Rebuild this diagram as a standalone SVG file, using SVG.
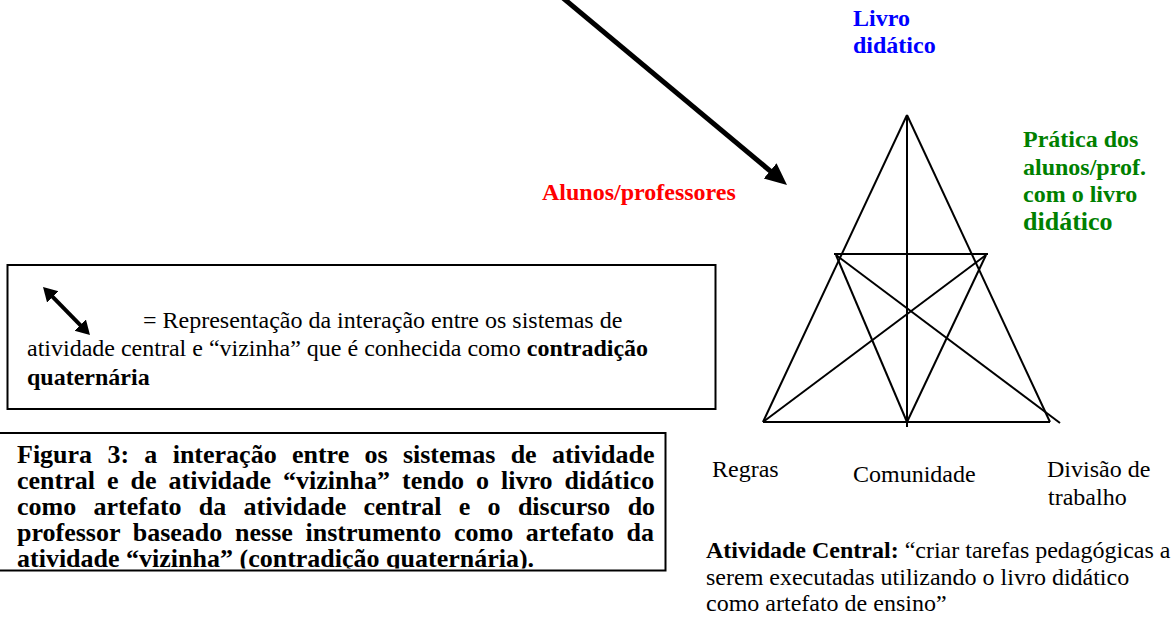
<svg xmlns="http://www.w3.org/2000/svg" width="1171" height="622" viewBox="0 0 1171 622" font-family="'Liberation Serif', Tinos, 'Times New Roman', 'Nimbus Roman', 'DejaVu Serif', serif">
  <style>
    text { font-family: 'Liberation Serif', Tinos, 'Times New Roman', 'Nimbus Roman', 'DejaVu Serif', serif; }
    .reg { font-size: 24px; fill: #000; }
    .bold { font-weight: bold; }
    .cap { font-weight: bold; font-size: 26px; fill: #000; }
    .tri { stroke: #000; stroke-width: 2; fill: none; stroke-linecap: butt; }
    .box { fill: #fff; stroke: #000; stroke-width: 2; }
  </style>
  <defs>
    <marker id="bigHead" markerUnits="userSpaceOnUse" markerWidth="24" markerHeight="22" refX="7" refY="10" orient="auto">
      <path d="M0,0 L22,10 L0,20 z" fill="#000"/>
    </marker>
    <marker id="smallHead" markerUnits="userSpaceOnUse" markerWidth="16" markerHeight="18" refX="4" refY="8" orient="auto-start-reverse">
      <path d="M0,0 L14,8 L0,16 z" fill="#000"/>
    </marker>
    <clipPath id="capClip">
      <rect x="0" y="434" width="664" height="134.5"/>
    </clipPath>
  </defs>
  <rect width="1171" height="622" fill="#fff"/>

  <g id="connectors">
    <line x1="563" y1="-2" x2="775.5" y2="175.4" stroke="#000" stroke-width="5" marker-end="url(#bigHead)"/>
  </g>

  <g id="triangle">
    <line class="tri" x1="907" y1="115" x2="763" y2="422"/>
    <line class="tri" x1="907" y1="115" x2="1050" y2="422"/>
    <line class="tri" x1="907" y1="115" x2="907" y2="427"/>
    <line class="tri" x1="834" y1="254" x2="988" y2="254"/>
    <line class="tri" x1="763" y1="422" x2="1050" y2="422"/>
    <line class="tri" x1="836" y1="255" x2="907" y2="422"/>
    <line class="tri" x1="836" y1="255" x2="1060" y2="423"/>
    <line class="tri" x1="986" y1="255" x2="763" y2="422"/>
    <line class="tri" x1="986" y1="255" x2="907" y2="422"/>
  </g>

  <g id="label-livro">
    <text class="bold" font-size="24" fill="#0000FF" x="853" y="26">Livro</text>
    <text class="bold" font-size="24" fill="#0000FF" x="853" y="53">didático</text>
  </g>

  <g id="label-alunos">
    <text class="bold" font-size="24" fill="#FF0000" x="542" y="200">Alunos/professores</text>
  </g>

  <g id="label-pratica">
    <text class="bold" font-size="24" fill="#008000" x="1023" y="147">Prática dos</text>
    <text class="bold" font-size="24" fill="#008000" x="1023" y="175">alunos/prof.</text>
    <text class="bold" font-size="24" fill="#008000" x="1023" y="202">com o livro</text>
    <text class="bold" font-size="26" fill="#008000" x="1023" y="230">didático</text>
  </g>

  <g id="label-regras">
    <text class="reg" x="712" y="477">Regras</text>
  </g>
  <g id="label-comunidade">
    <text class="reg" x="853" y="482">Comunidade</text>
  </g>
  <g id="label-divisao">
    <text class="reg" x="1047" y="477">Divisão de</text>
    <text class="reg" x="1048" y="505">trabalho</text>
  </g>

  <g id="central-activity">
    <text class="reg" x="706" y="558"><tspan font-weight="bold">Atividade Central:</tspan> “criar tarefas pedagógicas a</text>
    <text class="reg" x="706" y="585">serem executadas utilizando o livro didático</text>
    <text class="reg" x="706" y="611">como artefato de ensino”</text>
  </g>

  <g id="legend">
    <rect class="box" x="7.5" y="265" width="708" height="144"/>
    <line x1="50" y1="294.1" x2="83" y2="327.9" stroke="#000" stroke-width="4" marker-start="url(#smallHead)" marker-end="url(#smallHead)"/>
    <text class="reg" x="143" y="328">= Representação da interação entre os sistemas de</text>
    <text class="reg" x="27" y="356">atividade central e “vizinha” que é conhecida como <tspan font-weight="bold">contradição</tspan></text>
    <text class="reg" x="27" y="385" font-weight="bold">quaternária</text>
  </g>

  <g id="caption">
    <rect class="box" x="-1" y="433" width="666.5" height="137.5"/>
    <g clip-path="url(#capClip)">
      <text class="cap" x="17" y="463" word-spacing="8.8">Figura 3: a interação entre os sistemas de atividade</text>
      <text class="cap" x="17" y="489" word-spacing="5.5">central e de atividade “vizinha” tendo o livro didático</text>
      <text class="cap" x="17" y="515" word-spacing="10.8">como artefato da atividade central e o discurso do</text>
      <text class="cap" x="17" y="541" word-spacing="6.2">professor baseado nesse instrumento como artefato da</text>
      <text class="cap" x="17" y="567">atividade “vizinha” (contradição quaternária).</text>
    </g>
  </g>
</svg>
